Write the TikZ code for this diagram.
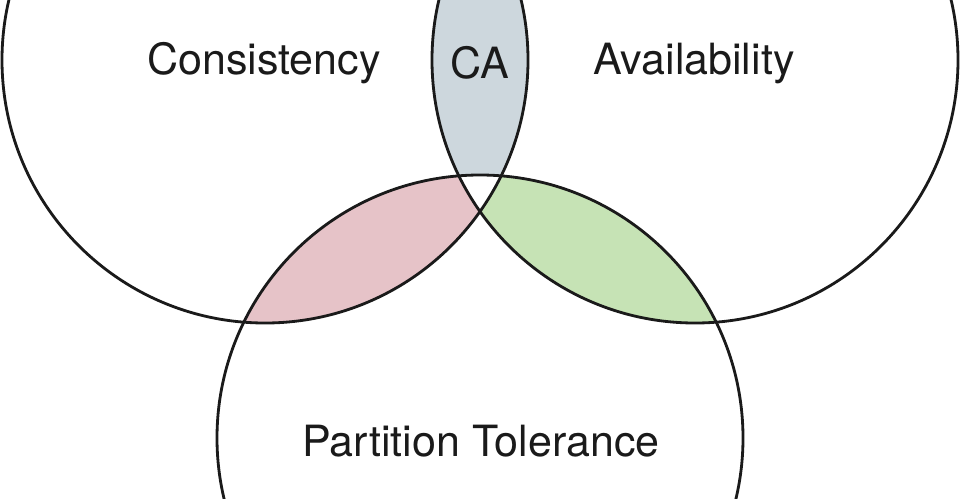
\documentclass[tikz,border=0pt]{standalone}
\usepackage{fontspec}
\setmainfont{TeX Gyre Heros}
\usetikzlibrary{positioning}
\definecolor{ink}   {HTML}{1A1A1A}
\definecolor{cafill}{HTML}{CDD7DD}
\definecolor{cpfill}{HTML}{E6C3C8}
\definecolor{apfill}{HTML}{C6E3B5}

\begin{document}
\begin{tikzpicture}[x=0.02cm, y=-0.02cm,
    setlabel/.style={text=ink, font=\fontsize{24.5}{28}\selectfont},
    ring/.style={draw=ink, line width=1.6pt}]
    \useasboundingbox (0,0) rectangle (960,498);
    \clip (0,0) rectangle (960,498);
    \def\rad{263}
    \coordinate (cons)  at (265,60);
    \coordinate (avail) at (695,60);
    \coordinate (part)  at (480,438);

    % pairwise overlaps: clip to two circles, blank out the third
    \foreach \one/\two/\other/\shade in {cons/avail/part/cafill,
                                         cons/part/avail/cpfill,
                                         avail/part/cons/apfill}
      {\begin{scope}
         \clip (\one) circle[radius=\rad];
         \clip (\two) circle[radius=\rad];
         \fill[\shade] (0,0) rectangle (960,498);
         \fill[white] (\other) circle[radius=\rad];
       \end{scope}}

    \foreach \c in {cons, avail, part}
      \draw[ring] (\c) circle[radius=\rad];

    \node[setlabel] (consL)  at (264,63)  {Consistency};
    \node[setlabel] (caL)    at (480,63)  {CA};
    \node[setlabel] (availL) at (694,63)  {Availability};
    \node[setlabel] (partL)  at (481,441) {Partition Tolerance};
  \end{tikzpicture}
\end{document}
